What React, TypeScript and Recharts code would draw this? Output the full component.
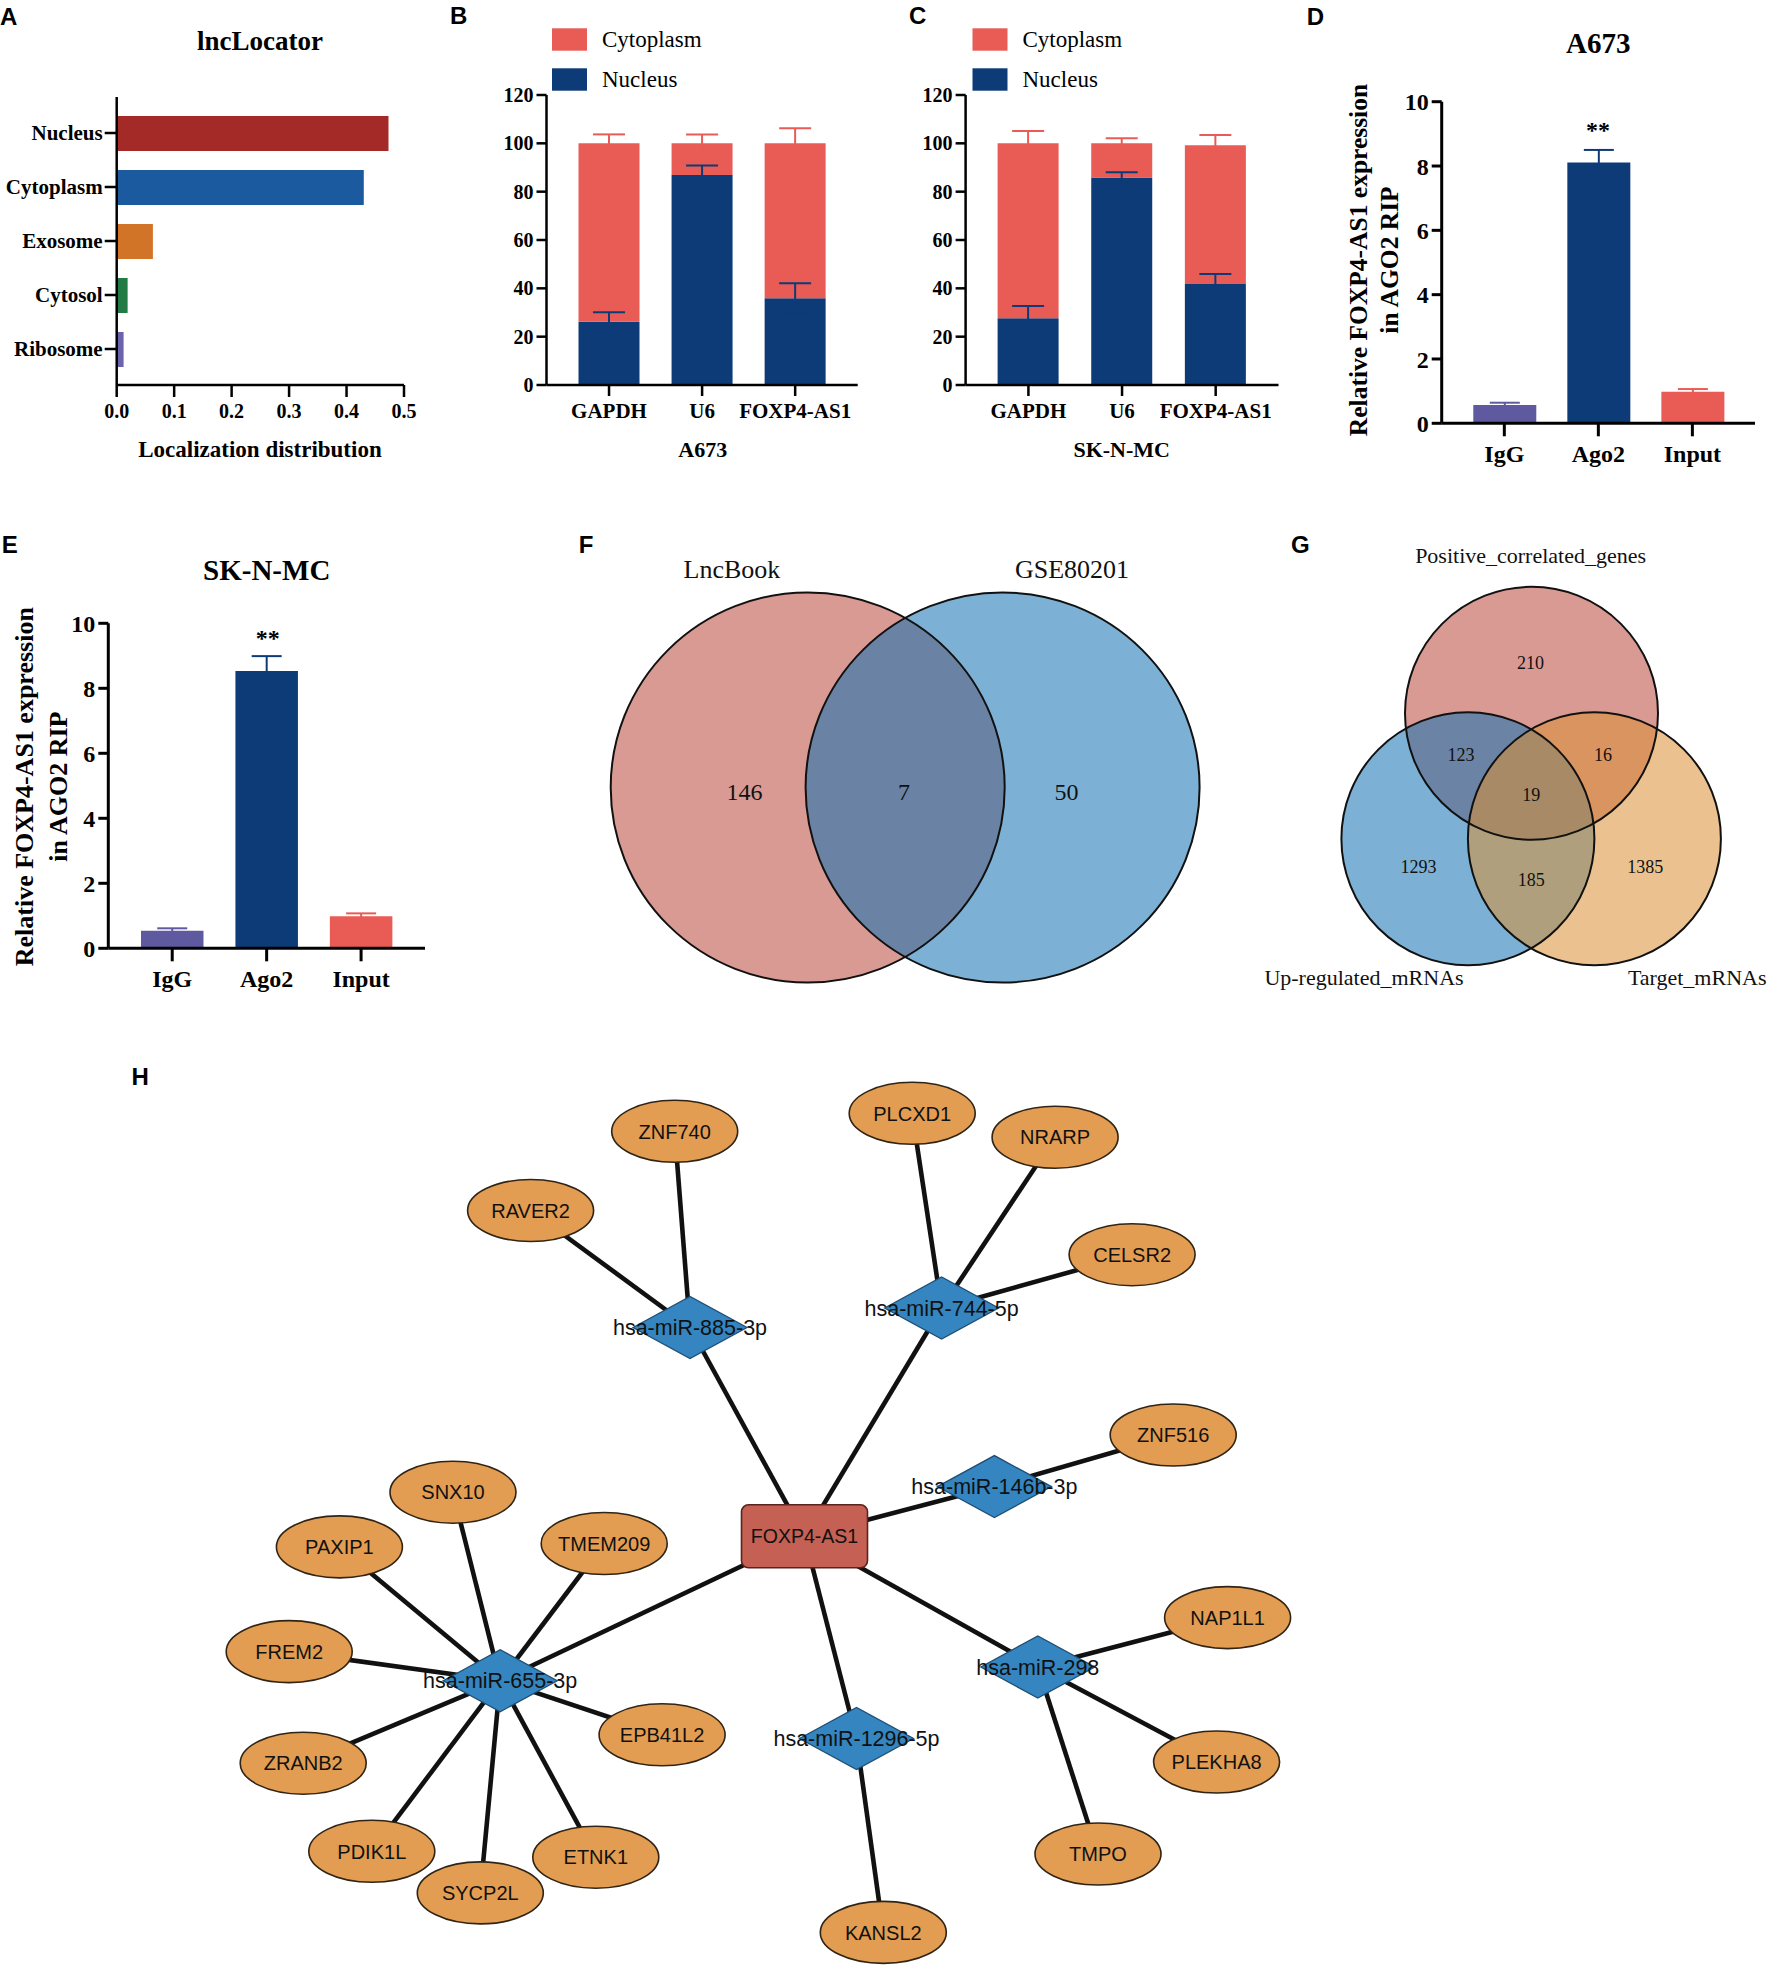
import React from "react";
import {
  BarChart,
  Bar,
  XAxis,
  YAxis,
  Cell,
  ErrorBar,
  ScatterChart,
  Scatter,
} from "recharts";

const SERIF = "'Liberation Serif', 'Times New Roman', serif";
const SANS = "'Liberation Sans', Arial, Helvetica, sans-serif";

const NAVY = "#0d3b78";
const SALMON = "#e85c55";
const PURPLE = "#5f5aa0";

// ---------- A: lncLocator
const locCategories = ["Nucleus", "Cytoplasm", "Exosome", "Cytosol", "Ribosome"];
const locValues = [0.473, 0.43, 0.063, 0.019, 0.012];
const locTicks = [0, 0.1, 0.2, 0.3, 0.4, 0.5];
const locColors = ["#a32a26", "#1b5a9e", "#d27427", "#227a45", "#6c63ae"];

// ---------- B / C: subcellular fractionation
const fracGenes = ["GAPDH", "U6", "FOXP4-AS1"];
const fracSeries = ["Cytoplasm", "Nucleus"];
const a673Nucleus = [26.2, 86.9, 35.9];
const a673NucleusSd = [3.9, 3.9, 6.2];
const a673Cytoplasm = [73.8, 13.1, 64.1];
const a673CytoplasmSd = [3.7, 3.7, 6.2];
const sknmcNucleus = [27.6, 85.9, 41.8];
const sknmcNucleusSd = [5.1, 2.1, 4.1];
const sknmcCytoplasm = [72.4, 14.1, 57.4];
const sknmcCytoplasmSd = [5.1, 2.1, 4.2];
const fracTicks = [0, 20, 40, 60, 80, 100, 120];

// ---------- D / E: AGO2 RIP
const ripGroups = ["IgG", "Ago2", "Input"];
const a673Rip = [0.57, 8.11, 0.98];
const a673RipSd = [0.07, 0.39, 0.085];
const sknmcRip = [0.54, 8.53, 0.99];
const sknmcRipSd = [0.075, 0.46, 0.085];
const ripTicks = [0, 2, 4, 6, 8, 10];
const ripColors = [PURPLE, NAVY, SALMON];

// ---------- F: two-set Venn (layout units)
const vennFSets = [
  { name: "LncBook", x: 807.7, y: 787.5 },
  { name: "GSE80201", x: 1002.6, y: 787.5 },
];
const vennFCounts = [
  { label: "146", x: 744.5, y: 791.7 },
  { label: "7", x: 904.1, y: 791.7 },
  { label: "50", x: 1066.6, y: 791.7 },
];

// ---------- G: three-set Venn (layout units)
const vennGSets = [
  { name: "Positive_correlated_genes", x: 1531.5, y: 713.3 },
  { name: "Up-regulated_mRNAs", x: 1467.9, y: 838.8 },
  { name: "Target_mRNAs", x: 1594.4, y: 838.8 },
];
const vennGCounts = [
  { label: "210", x: 1530.6, y: 663.3 },
  { label: "123", x: 1461, y: 755 },
  { label: "16", x: 1603, y: 755 },
  { label: "19", x: 1531.3, y: 795 },
  { label: "1293", x: 1418.5, y: 866.7 },
  { label: "185", x: 1531.3, y: 880 },
  { label: "1385", x: 1645.2, y: 866.7 },
];

// ---------- H: ceRNA network (layout units)
const lncNodes = [{ id: "FOXP4-AS1", x: 804.5, y: 1536.3 }];
const mirNodes = [
  { id: "hsa-miR-885-3p", x: 690, y: 1327.5 },
  { id: "hsa-miR-744-5p", x: 941.6, y: 1308 },
  { id: "hsa-miR-146b-3p", x: 994.4, y: 1486.6 },
  { id: "hsa-miR-655-3p", x: 500.2, y: 1680.7 },
  { id: "hsa-miR-1296-5p", x: 856.5, y: 1738.5 },
  { id: "hsa-miR-298", x: 1037.8, y: 1667 },
];
const geneNodes = [
  { id: "ZNF740", x: 674.7, y: 1131.3 },
  { id: "RAVER2", x: 530.6, y: 1210.5 },
  { id: "PLCXD1", x: 912.2, y: 1113.3 },
  { id: "NRARP", x: 1055.1, y: 1137.2 },
  { id: "CELSR2", x: 1132.1, y: 1254.7 },
  { id: "ZNF516", x: 1173.2, y: 1435 },
  { id: "SNX10", x: 453, y: 1492.2 },
  { id: "PAXIP1", x: 339.4, y: 1546.9 },
  { id: "TMEM209", x: 604.2, y: 1543.5 },
  { id: "FREM2", x: 289.2, y: 1651.6 },
  { id: "EPB41L2", x: 662.1, y: 1734.8 },
  { id: "ZRANB2", x: 303.2, y: 1763.2 },
  { id: "PDIK1L", x: 371.8, y: 1851.3 },
  { id: "SYCP2L", x: 480.3, y: 1892.9 },
  { id: "ETNK1", x: 595.8, y: 1857.2 },
  { id: "KANSL2", x: 883.3, y: 1932.4 },
  { id: "NAP1L1", x: 1227.6, y: 1617.6 },
  { id: "PLEKHA8", x: 1216.6, y: 1762 },
  { id: "TMPO", x: 1098, y: 1854 },
];
const edges = [
  ["FOXP4-AS1", "hsa-miR-885-3p"],
  ["FOXP4-AS1", "hsa-miR-744-5p"],
  ["FOXP4-AS1", "hsa-miR-146b-3p"],
  ["FOXP4-AS1", "hsa-miR-655-3p"],
  ["FOXP4-AS1", "hsa-miR-1296-5p"],
  ["FOXP4-AS1", "hsa-miR-298"],
  ["hsa-miR-885-3p", "ZNF740"],
  ["hsa-miR-885-3p", "RAVER2"],
  ["hsa-miR-744-5p", "PLCXD1"],
  ["hsa-miR-744-5p", "NRARP"],
  ["hsa-miR-744-5p", "CELSR2"],
  ["hsa-miR-146b-3p", "ZNF516"],
  ["hsa-miR-655-3p", "SNX10"],
  ["hsa-miR-655-3p", "PAXIP1"],
  ["hsa-miR-655-3p", "TMEM209"],
  ["hsa-miR-655-3p", "FREM2"],
  ["hsa-miR-655-3p", "ZRANB2"],
  ["hsa-miR-655-3p", "PDIK1L"],
  ["hsa-miR-655-3p", "SYCP2L"],
  ["hsa-miR-655-3p", "ETNK1"],
  ["hsa-miR-655-3p", "EPB41L2"],
  ["hsa-miR-1296-5p", "KANSL2"],
  ["hsa-miR-298", "NAP1L1"],
  ["hsa-miR-298", "PLEKHA8"],
  ["hsa-miR-298", "TMPO"],
];

// ---------- helpers
const line = (w: number) => ({ stroke: "#000", strokeWidth: w });
const tickFont = (size: number) => ({
  fill: "#000",
  fontFamily: SERIF,
  fontWeight: 700,
  fontSize: size,
});
const abs = (left: number, top: number): React.CSSProperties => ({
  position: "absolute",
  left,
  top,
});
const noMargin = { top: 0, right: 0, bottom: 0, left: 0 };

function PanelA() {
  const data = locCategories.map((name, i) => ({ name, value: locValues[i] }));
  return (
    <div style={abs(0, 0)}>
      <BarChart
        layout="vertical"
        width={440}
        height={470}
        data={data}
        margin={{ top: 97, right: 36, bottom: 0, left: 0 }}
      >
        <XAxis
          type="number"
          domain={[0, 0.5]}
          ticks={locTicks}
          tickFormatter={(v: number) => v.toFixed(1)}
          allowDataOverflow
          height={85}
          tickSize={12}
          tickMargin={7}
          axisLine={line(2.5)}
          tickLine={line(2.5)}
          tick={tickFont(20)}
        />
        <YAxis
          type="category"
          dataKey="name"
          width={116.7}
          padding={{ top: 9, bottom: 9 }}
          interval={0}
          tickSize={12}
          tickMargin={2}
          axisLine={line(2.5)}
          tickLine={line(2.5)}
          tick={tickFont(21)}
        />
        <Bar dataKey="value" barSize={35} isAnimationActive={false}>
          {data.map((d, i) => (
            <Cell key={d.name} fill={locColors[i]} />
          ))}
        </Bar>
      </BarChart>
    </div>
  );
}

type FracProps = {
  left: number;
  axisWidth: number;
  marginRight: number;
  nucleus: number[];
  nucleusSd: number[];
  cytoplasm: number[];
  cytoplasmSd: number[];
};

function FractionPanel(p: FracProps) {
  const data = fracGenes.map((gene, i) => ({
    gene,
    nucleus: p.nucleus[i],
    nucleusSd: p.nucleusSd[i],
    cytoplasm: p.cytoplasm[i],
    cytoplasmSd: p.cytoplasmSd[i],
  }));
  const pad = { left: 16, right: 16 };
  return (
    <>
      <div style={abs(p.left, 0)}>
        <BarChart
          width={440}
          height={480}
          data={data}
          margin={{ top: 95, right: p.marginRight, bottom: 0, left: 0 }}
        >
          <XAxis
            dataKey="gene"
            padding={pad}
            interval={0}
            height={95}
            tickSize={11}
            tickMargin={7}
            axisLine={line(2.5)}
            tickLine={line(2.5)}
            tick={tickFont(21)}
          />
          <YAxis
            domain={[0, 120]}
            ticks={fracTicks}
            allowDataOverflow
            width={p.axisWidth}
            tickSize={10}
            tickMargin={3}
            axisLine={line(2.5)}
            tickLine={line(2.5)}
            tick={tickFont(20)}
          />
          <Bar dataKey="nucleus" stackId="s" fill={NAVY} barSize={61} isAnimationActive={false} />
          <Bar dataKey="cytoplasm" stackId="s" fill={SALMON} barSize={61} isAnimationActive={false} />
        </BarChart>
      </div>
      {/* error bars drawn on top of both stacked layers */}
      <div style={abs(p.left, 0)}>
        <BarChart
          width={440}
          height={480}
          data={data}
          margin={{ top: 95, right: p.marginRight, bottom: 95, left: p.axisWidth }}
        >
          <XAxis dataKey="gene" padding={pad} hide />
          <YAxis domain={[0, 120]} allowDataOverflow hide />
          <Bar dataKey="nucleus" stackId="s" fill="none" barSize={61} isAnimationActive={false}>
            <ErrorBar dataKey="nucleusSd" direction="y" width={16} strokeWidth={2} stroke={NAVY} />
          </Bar>
          <Bar dataKey="cytoplasm" stackId="s" fill="none" barSize={61} isAnimationActive={false}>
            <ErrorBar dataKey="cytoplasmSd" direction="y" width={16} strokeWidth={2} stroke={SALMON} />
          </Bar>
        </BarChart>
      </div>
    </>
  );
}

type RipProps = {
  left: number;
  top: number;
  width: number;
  height: number;
  marginTop: number;
  marginRight: number;
  axisWidth: number;
  xHeight: number;
  pad: number;
  barSize: number;
  values: number[];
  sds: number[];
};

function RipPanel(p: RipProps) {
  const data = ripGroups.map((group, i) => ({
    group,
    [group]: p.values[i],
    [`${group}Sd`]: p.sds[i],
  }));
  return (
    <div style={abs(p.left, p.top)}>
      <BarChart
        width={p.width}
        height={p.height}
        data={data}
        margin={{ top: p.marginTop, right: p.marginRight, bottom: 0, left: 0 }}
      >
        <XAxis
          dataKey="group"
          padding={{ left: p.pad, right: p.pad }}
          interval={0}
          height={p.xHeight}
          tickSize={13}
          tickMargin={8.4}
          axisLine={line(3)}
          tickLine={line(3)}
          tick={tickFont(24)}
        />
        <YAxis
          domain={[0, 10]}
          ticks={ripTicks}
          allowDataOverflow
          width={p.axisWidth}
          tickSize={10}
          tickMargin={3}
          axisLine={line(3)}
          tickLine={line(3)}
          tick={tickFont(24)}
        />
        {ripGroups.map((g, i) => (
          <Bar key={g} dataKey={g} stackId="r" fill={ripColors[i]} barSize={p.barSize} isAnimationActive={false}>
            <ErrorBar dataKey={`${g}Sd`} direction="y" width={15} strokeWidth={2} stroke={ripColors[i]} />
          </Bar>
        ))}
      </BarChart>
    </div>
  );
}

// ---------- shapes (charts below use 1 layout unit = 1 px)
const NoShape = () => <g />;

const fillEllipse = (rx: number, ry: number, fills: string[], opacity: number[]) => (props: any) => {
  const i = props.payload.idx;
  return (
    <ellipse cx={props.cx} cy={props.cy} rx={rx} ry={ry} fill={fills[i]} fillOpacity={opacity[i]} />
  );
};
const outlineEllipse = (rx: number, ry: number) => (props: any) => (
  <ellipse cx={props.cx} cy={props.cy} rx={rx} ry={ry} fill="none" stroke="#111" strokeWidth={2} />
);
const countText = (size: number) => (props: any) => (
  <text
    x={props.cx}
    y={props.cy}
    dy="0.34em"
    textAnchor="middle"
    fontFamily={SERIF}
    fontSize={size}
    fill="#111"
  >
    {props.payload.label}
  </text>
);

const vennFFills = ["#d89a93", "#1171b3"];
const vennFOpacity = [1, 0.55];
const vennGFills = ["#d99a94", "#1171b3", "#db9033"];
const vennGOpacity = [1, 0.55, 0.55];

function VennPanels() {
  const fSets = vennFSets.map((s, idx) => ({ ...s, idx }));
  const gSets = vennGSets.map((s, idx) => ({ ...s, idx }));
  return (
    <div style={abs(560, 500)}>
      <ScatterChart width={1213} height={520} margin={noMargin}>
        <XAxis type="number" dataKey="x" domain={[560, 1773]} allowDataOverflow hide />
        <YAxis type="number" dataKey="y" domain={[500, 1020]} allowDataOverflow reversed hide />
        {fSets.map((s) => (
          <Scatter key={s.name} data={[s]} shape={fillEllipse(197, 195, vennFFills, vennFOpacity)} isAnimationActive={false} />
        ))}
        <Scatter data={fSets} shape={outlineEllipse(197, 195)} isAnimationActive={false} />
        <Scatter data={vennFCounts} shape={countText(24)} isAnimationActive={false} />
        {gSets.map((s) => (
          <Scatter key={s.name} data={[s]} shape={fillEllipse(126.5, 126.5, vennGFills, vennGOpacity)} isAnimationActive={false} />
        ))}
        <Scatter data={gSets} shape={outlineEllipse(126.5, 126.5)} isAnimationActive={false} />
        <Scatter data={vennGCounts} shape={countText(18)} isAnimationActive={false} />
      </ScatterChart>
    </div>
  );
}

const GeneShape = (props: any) => (
  <g>
    <ellipse cx={props.cx} cy={props.cy} rx={63} ry={31} fill="#e39d52" stroke="#2f2415" strokeWidth={1.6} />
    <text x={props.cx} y={props.cy} dy="0.36em" textAnchor="middle" fontFamily={SANS} fontSize={20} fill="#111">
      {props.payload.id}
    </text>
  </g>
);
const MirShape = (props: any) => {
  const { cx, cy } = props;
  const pts = `${cx - 57},${cy} ${cx},${cy - 31} ${cx + 57},${cy} ${cx},${cy + 31}`;
  return (
    <g>
      <polygon points={pts} fill="#3485c0" stroke="#1f4d73" strokeWidth={1.3} />
      <text x={cx} y={cy} dy="0.36em" textAnchor="middle" fontFamily={SANS} fontSize={21.5} fill="#111">
        {props.payload.id}
      </text>
    </g>
  );
};
const LncShape = (props: any) => (
  <g>
    <rect x={props.cx - 63} y={props.cy - 31.5} width={126} height={63} rx={7} fill="#c46054" stroke="#5a231d" strokeWidth={1.6} />
    <text x={props.cx} y={props.cy} dy="0.36em" textAnchor="middle" fontFamily={SANS} fontSize={19.5} fill="#111">
      {props.payload.id}
    </text>
  </g>
);

function NetworkPanel() {
  const all = [...lncNodes, ...mirNodes, ...geneNodes];
  const byId: Record<string, { id: string; x: number; y: number }> = {};
  all.forEach((n) => (byId[n.id] = n));
  return (
    <div style={abs(0, 1040)}>
      <ScatterChart width={1773} height={928} margin={noMargin}>
        <XAxis type="number" dataKey="x" domain={[0, 1773]} allowDataOverflow hide />
        <YAxis type="number" dataKey="y" domain={[1040, 1968]} allowDataOverflow reversed hide />
        {edges.map(([a, b]) => (
          <Scatter
            key={`${a}-${b}`}
            data={[byId[a], byId[b]]}
            fill="#111"
            line={{ stroke: "#111", strokeWidth: 4.6 }}
            shape={NoShape}
            isAnimationActive={false}
          />
        ))}
        <Scatter data={geneNodes} shape={GeneShape} isAnimationActive={false} />
        <Scatter data={mirNodes} shape={MirShape} isAnimationActive={false} />
        <Scatter data={lncNodes} shape={LncShape} isAnimationActive={false} />
      </ScatterChart>
    </div>
  );
}

function Overlay() {
  const letter = { fontFamily: SANS, fontWeight: 700, fontSize: 24, fill: "#000" };
  const bold = (size: number) => ({ fontFamily: SERIF, fontWeight: 700, fontSize: size, fill: "#000" });
  const reg = (size: number) => ({ fontFamily: SERIF, fontSize: size, fill: "#111" });
  const legendColors = [SALMON, NAVY];
  const legend = (x: number) =>
    fracSeries.map((name, i) => (
      <g key={`${x}-${name}`}>
        <rect x={x} y={28.3 + i * 40} width={35} height={22.4} fill={legendColors[i]} />
        <text x={x + 50} y={46.7 + i * 40} {...reg(23)} fill="#000">
          {name}
        </text>
      </g>
    ));
  return (
    <svg width={1773} height={1968} style={{ position: "absolute", left: 0, top: 0, pointerEvents: "none" }}>
      <text x={0} y={25} {...letter}>A</text>
      <text x={450} y={24} {...letter}>B</text>
      <text x={909} y={24} {...letter}>C</text>
      <text x={1306.7} y={25} {...letter}>D</text>
      <text x={1.7} y={553} {...letter}>E</text>
      <text x={578.7} y={553} {...letter}>F</text>
      <text x={1291} y={553} {...letter}>G</text>
      <text x={131.6} y={1085} {...letter}>H</text>

      <text x={260} y={50} textAnchor="middle" {...bold(27)}>lncLocator</text>
      <text x={260} y={456.7} textAnchor="middle" {...bold(23)}>Localization distribution</text>

      {legend(552)}
      {legend(972.5)}
      <text x={702.7} y={456.7} textAnchor="middle" {...bold(22)}>A673</text>
      <text x={1121.7} y={456.7} textAnchor="middle" {...bold(22)}>SK-N-MC</text>

      <text x={1598.3} y={53.3} textAnchor="middle" {...bold(29)}>A673</text>
      <text x={1598} y={138} textAnchor="middle" {...bold(24)}>**</text>
      <text transform="translate(1366.7,260) rotate(-90)" textAnchor="middle" {...bold(25.5)}>
        Relative FOXP4-AS1 expression
      </text>
      <text transform="translate(1398.3,260) rotate(-90)" textAnchor="middle" {...bold(25.5)}>
        in AGO2 RIP
      </text>

      <text x={266.7} y={580} textAnchor="middle" {...bold(29)}>SK-N-MC</text>
      <text x={267.7} y={646} textAnchor="middle" {...bold(24)}>**</text>
      <text transform="translate(33.3,786.7) rotate(-90)" textAnchor="middle" {...bold(26)}>
        Relative FOXP4-AS1 expression
      </text>
      <text transform="translate(66.7,786.7) rotate(-90)" textAnchor="middle" {...bold(26)}>
        in AGO2 RIP
      </text>

      <text x={732} y={578.3} textAnchor="middle" {...reg(26)}>{vennFSets[0].name}</text>
      <text x={1072} y={578.3} textAnchor="middle" {...reg(26)}>{vennFSets[1].name}</text>

      <text x={1530.6} y={563.3} textAnchor="middle" {...reg(22)}>{vennGSets[0].name}</text>
      <text x={1364} y={985} textAnchor="middle" {...reg(22)}>{vennGSets[1].name}</text>
      <text x={1697.2} y={985} textAnchor="middle" {...reg(22)}>{vennGSets[2].name}</text>
    </svg>
  );
}

export default function App() {
  return (
    <div
      style={{
        position: "absolute",
        left: 0,
        top: 0,
        width: 1773,
        height: 1968,
        overflow: "hidden",
        background: "#fff",
      }}
    >
      <PanelA />
      <FractionPanel
        left={440}
        axisWidth={106.5}
        marginRight={22.3}
        nucleus={a673Nucleus}
        nucleusSd={a673NucleusSd}
        cytoplasm={a673Cytoplasm}
        cytoplasmSd={a673CytoplasmSd}
      />
      <FractionPanel
        left={859}
        axisWidth={106.6}
        marginRight={20.5}
        nucleus={sknmcNucleus}
        nucleusSd={sknmcNucleusSd}
        cytoplasm={sknmcCytoplasm}
        cytoplasmSd={sknmcCytoplasmSd}
      />
      <RipPanel
        left={1320}
        top={0}
        width={453}
        height={480}
        marginTop={101.7}
        marginRight={18}
        axisWidth={121.7}
        xHeight={56.7}
        pad={15.6}
        barSize={63}
        values={a673Rip}
        sds={a673RipSd}
      />
      <RipPanel
        left={0}
        top={500}
        width={440}
        height={500}
        marginTop={123.3}
        marginRight={15}
        axisWidth={108.3}
        xHeight={51.7}
        pad={16.7}
        barSize={62.5}
        values={sknmcRip}
        sds={sknmcRipSd}
      />
      <VennPanels />
      <NetworkPanel />
      <Overlay />
    </div>
  );
}
